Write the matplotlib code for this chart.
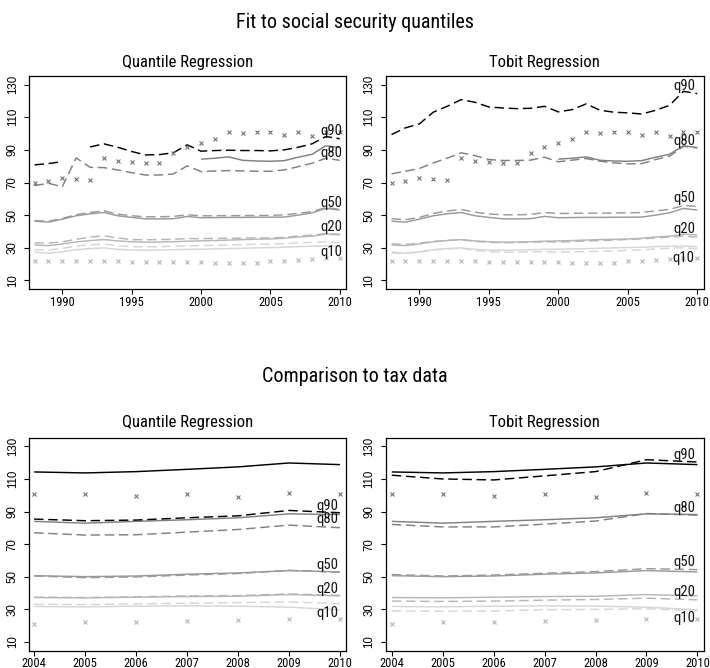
import numpy as np
import matplotlib
matplotlib.use("Agg")
import matplotlib.pyplot as plt
from matplotlib import font_manager

nan = np.nan

# ---------------- data: social security period ----------------
years_ss = list(range(1988, 2011))

ss_top_obs = [69.5, 70.9, 72.6, 72.0, 71.3, 84.9, 83.4, 82.4, 82.2, 81.8, 87.9, 91.6,
              94.5, 96.6, 100.9, 100.3, 100.7, 100.7, 99.2, 100.7, 98.8, 100.9, 100.9]
ss_low_obs = [22.0, 22.0, 22.0, 22.1, 22.1, 22.1, 21.6, 21.4, 21.3, 21.4, 21.5, 21.5,
              21.3, 20.9, 20.9, 20.4, 20.4, 21.6, 22.0, 22.6, 22.9, 23.8, 24.0]

# reference series (solid)
ss_q80 = [nan, nan, nan, nan, nan, nan, nan, nan, nan, nan, nan, nan,
          84.3, 84.9, 85.7, 83.6, 83.2, 83.0, 83.4, 85.5, 87.3, 92.5, 91.4]
ss_q50 = [46.3, 45.7, 47.5, 49.6, 50.8, 51.6, 49.6, 48.6, 47.7, 47.7, 47.8, 49.2,
          48.4, 48.5, 48.6, 48.6, 48.7, 48.7, 48.8, 50.0, 51.4, 54.1, 53.1]
ss_q20 = [31.7, 31.3, 32.3, 33.6, 34.4, 35.0, 34.2, 33.7, 33.4, 33.5, 33.7, 34.0,
          34.2, 34.4, 34.7, 35.0, 35.2, 35.4, 35.8, 36.6, 37.1, 38.3, 37.9]
ss_q10 = [27.4, 26.6, 27.5, 28.8, 29.5, 29.9, 29.0, 28.6, 28.5, 28.6, 28.8, 29.0,
          29.1, 29.3, 29.5, 29.7, 29.9, 30.1, 30.3, 30.7, 30.9, 31.1, 30.7]

# quantile regression fits (dashed)
qr_ss_q90 = [80.8, 81.6, 82.8, nan, 91.8, 93.7, 91.6, 89.0, 86.9, 87.1, 88.2, 93.1,
             89.2, 89.6, 89.8, 89.6, 89.6, 89.4, 90.0, 91.6, 93.7, 98.2, 96.8]
qr_ss_q80 = [68.1, 69.5, 67.4, 85.1, 79.3, 79.1, 77.7, 76.0, 74.6, 74.6, 75.2, 80.2,
             76.7, 77.1, 77.3, 77.1, 76.9, 76.9, 77.7, 79.7, 81.8, 84.9, 83.6]
qr_ss_q50 = [46.7, 46.2, 48.0, 50.3, 51.6, 52.7, 50.6, 49.6, 49.0, 49.0, 49.2, 50.2,
             49.6, 49.6, 49.7, 49.7, 49.8, 49.8, 50.2, 51.0, 52.2, 54.7, 53.5]
qr_ss_q20 = [33.0, 32.9, 33.6, 35.2, 36.5, 37.3, 36.0, 35.0, 34.9, 35.0, 35.2, 35.6,
             35.6, 35.7, 35.8, 35.9, 36.0, 36.0, 36.4, 37.2, 37.8, 38.7, 38.3]
qr_ss_q10 = [28.9, 28.6, 29.6, 31.0, 31.8, 32.2, 31.2, 30.7, 30.5, 30.6, 30.9, 31.1,
             31.3, 31.5, 31.7, 31.9, 32.1, 32.2, 32.5, 33.0, 33.3, 33.6, 33.2]

# tobit fits (dashed)
tb_ss_q90 = [99.4, 103.5, 105.9, 113.1, 116.7, 120.8, 119.2, 116.3, 115.7, 115.3, 115.5, 116.7,
             113.3, 114.7, 118.2, 114.3, 113.1, 112.7, 112.0, 114.3, 117.3, 125.9, 124.5]
tb_ss_q80 = [75.3, 76.9, 78.6, 82.0, 84.9, 88.2, 86.5, 84.1, 83.5, 83.5, 83.7, 85.5,
             82.7, 83.7, 84.7, 83.1, 82.0, 81.4, 81.6, 84.1, 86.1, 92.2, 91.2]
tb_ss_q50 = [47.8, 47.2, 48.6, 51.0, 52.5, 53.5, 51.8, 50.7, 50.2, 50.2, 50.4, 51.6,
             51.0, 51.1, 51.2, 51.2, 51.3, 51.4, 51.6, 52.6, 53.5, 55.9, 55.3]
tb_ss_q20 = [32.4, 32.0, 32.8, 33.9, 34.5, 34.9, 33.9, 33.3, 33.1, 33.2, 33.4, 33.6,
             33.5, 33.8, 34.1, 34.4, 34.7, 35.1, 35.4, 36.0, 36.5, 37.1, 36.5]
tb_ss_q10 = [26.7, 26.6, 27.3, 28.6, 29.3, 29.6, 28.3, 27.6, 27.3, 27.3, 27.4, 27.6,
             27.4, 27.5, 27.6, 27.8, 28.0, 28.4, 28.7, 29.3, 29.7, 30.0, 29.4]

# ---------------- data: tax period ----------------
years_tax = list(range(2004, 2011))

tax_top_obs = [100.7, 100.7, 99.4, 100.7, 99.0, 101.1, 100.9]
tax_low_obs = [21.0, 22.2, 22.6, 23.2, 23.4, 24.3, 24.3]

tax_q90 = [114.3, 113.7, 114.5, 115.9, 117.4, 119.8, 118.8]
tax_q80 = [84.0, 82.9, 84.0, 85.0, 86.2, 88.6, 88.2]
tax_q50 = [50.7, 50.1, 50.5, 51.6, 52.4, 53.8, 53.0]
tax_q20 = [37.3, 37.1, 37.5, 37.9, 38.1, 39.1, 38.3]
tax_q10 = [31.8, 31.6, 32.0, 32.2, 32.0, 31.4, 29.8]

qr_tax_q90 = [85.4, 84.4, 84.8, 86.2, 87.4, 90.7, 89.3]
qr_tax_q80 = [77.0, 75.6, 75.8, 77.4, 79.0, 81.7, 80.1]
qr_tax_q50 = [50.5, 49.5, 49.9, 51.1, 52.0, 54.0, 52.8]
qr_tax_q20 = [37.5, 37.3, 37.7, 38.3, 38.5, 39.5, 38.7]
qr_tax_q10 = [33.2, 33.0, 33.4, 33.8, 34.2, 34.6, 33.6]

tb_tax_q90 = [112.3, 110.0, 109.4, 111.9, 114.5, 121.8, 120.4]
tb_tax_q80 = [82.1, 80.6, 80.6, 82.3, 84.2, 88.8, 87.8]
tb_tax_q50 = [51.4, 50.5, 51.1, 52.2, 53.2, 55.0, 54.4]
tb_tax_q20 = [35.1, 34.9, 35.1, 35.7, 36.1, 36.9, 35.9]
tb_tax_q10 = [29.1, 28.9, 29.1, 29.8, 30.0, 30.4, 29.3]

quantile_names = ["q90", "q80", "q50", "q20", "q10"]

# label anchors (x, y) per panel, in data units
lab_x_ss = [2009.4, 2009.4, 2009.4, 2009.4, 2009.4]
lab_y_qr_ss = [101.3, 88.0, 57.6, 42.8, 27.4]
lab_x_tb_ss = [2009.1, 2009.1, 2009.1, 2009.1, 2009.0]
lab_y_tb_ss = [129.4, 95.3, 60.6, 41.2, 23.9]
lab_x_tax = [2009.75, 2009.75, 2009.75, 2009.75, 2009.75]
lab_y_qr_tax = [93.3, 85.6, 57.3, 42.6, 28.1]
lab_y_tb_tax = [124.5, 92.5, 58.9, 40.6, 24.7]

# ---------------- styling ----------------
colors = ["#000000", "#808080", "#9a9a9a", "#b6b6b6", "#d6d6d6"]
obs_top_color = "#707070"
obs_low_color = "#b4b4b4"
DASH = (6.5, 3.2)
LW = 1.05


def pick_narrow_font():
    """Prefer a narrow sans face; fall back to Liberation Sans."""
    entries = font_manager.fontManager.ttflist
    names = {f.name for f in entries}
    for cand in ["Liberation Sans Narrow", "Arial Narrow", "Roboto Condensed",
                 "Open Sans Condensed", "DejaVu Sans Condensed"]:
        if cand in names:
            return dict(family=[cand, "DejaVu Sans"], stretch="normal"), True
    for f in entries:
        if f.name == "DejaVu Sans" and str(f.stretch) in ("condensed", "semi-condensed"):
            return dict(family=["DejaVu Sans"], stretch="condensed"), True
    return dict(family=["Liberation Sans", "DejaVu Sans"], stretch="normal"), False


NARROW_KW, HAVE_NARROW = pick_narrow_font()
REG = ["Liberation Sans", "DejaVu Sans"]
K = 1.0 if HAVE_NARROW else 0.82   # shrink wide faces to keep text widths

fig = plt.figure(figsize=(7.10, 6.68), dpi=100)
W, H = 710.0, 668.0


def make_axes(x0, x1, ytop, ybot):
    return fig.add_axes([x0 / W, 1 - ybot / H, (x1 - x0) / W, (ybot - ytop) / H])


def style(ax, xlim, xticks):
    ax.set_xlim(*xlim)
    ax.set_ylim(4.7, 135.3)
    ax.set_xticks(xticks)
    ax.set_yticks([10, 30, 50, 70, 90, 110, 130])
    for s in ax.spines.values():
        s.set_linewidth(0.9)
    ax.tick_params(direction="out", length=3.8, width=0.8, colors="black")
    ax.tick_params(axis="x", pad=1.0)
    ax.tick_params(axis="y", pad=3.6)
    for lab in ax.get_xticklabels():
        lab.set_fontfamily(NARROW_KW["family"])
        lab.set_fontstretch(NARROW_KW["stretch"])
        lab.set_fontsize(9.0 * K)
    for lab in ax.get_yticklabels():
        lab.set_fontfamily(REG)
        lab.set_fontsize(8.3)
        lab.set_rotation(90)
        lab.set_va("center")
        lab.set_ha("right")


def draw_panel(ax, years, ref, fit, top_obs, low_obs, lab_x, lab_y):
    for r, c in zip(ref, colors):
        ax.plot(years, r, color=c, lw=LW, solid_capstyle="butt")
    for f, c in zip(fit, colors):
        ax.plot(years, f, color=c, lw=LW, dashes=DASH, dash_capstyle="butt")
    ax.plot(years, top_obs, ls="none", marker="x", ms=3.2, mew=0.8, color=obs_top_color)
    ax.plot(years, low_obs, ls="none", marker="x", ms=3.2, mew=0.8, color=obs_low_color)
    for name, x, y in zip(quantile_names, lab_x, lab_y):
        ax.text(x, y, name, ha="center", va="center", fontsize=10.5 * K,
                family=NARROW_KW["family"], stretch=NARROW_KW["stretch"], color="#111111")


xlim_ss_l = (1987.6, 2010.45)
xlim_ss_r = (1987.58, 2010.48)
xlim_tax_l = (2003.9, 2010.12)
xlim_tax_r = (2003.88, 2010.13)
ss_ticks = [1990, 1995, 2000, 2005, 2010]

nan_ref_q90 = [nan] * len(years_ss)

ax1 = make_axes(29, 346, 76, 289)
draw_panel(ax1, years_ss,
           [nan_ref_q90, ss_q80, ss_q50, ss_q20, ss_q10],
           [qr_ss_q90, qr_ss_q80, qr_ss_q50, qr_ss_q20, qr_ss_q10],
           ss_top_obs, ss_low_obs, lab_x_ss, lab_y_qr_ss)
style(ax1, xlim_ss_l, ss_ticks)

ax2 = make_axes(385.7, 704, 76, 289)
draw_panel(ax2, years_ss,
           [nan_ref_q90, ss_q80, ss_q50, ss_q20, ss_q10],
           [tb_ss_q90, tb_ss_q80, tb_ss_q50, tb_ss_q20, tb_ss_q10],
           ss_top_obs, ss_low_obs, lab_x_tb_ss, lab_y_tb_ss)
style(ax2, xlim_ss_r, ss_ticks)

ax3 = make_axes(29, 346, 437.7, 650.7)
draw_panel(ax3, years_tax,
           [tax_q90, tax_q80, tax_q50, tax_q20, tax_q10],
           [qr_tax_q90, qr_tax_q80, qr_tax_q50, qr_tax_q20, qr_tax_q10],
           tax_top_obs, tax_low_obs, lab_x_tax, lab_y_qr_tax)
style(ax3, xlim_tax_l, years_tax)

ax4 = make_axes(385.7, 704, 437.7, 650.7)
draw_panel(ax4, years_tax,
           [tax_q90, tax_q80, tax_q50, tax_q20, tax_q10],
           [tb_tax_q90, tb_tax_q80, tb_tax_q50, tb_tax_q20, tb_tax_q10],
           tax_top_obs, tax_low_obs, lab_x_tax, lab_y_tb_tax)
style(ax4, xlim_tax_r, years_tax)

# titles
title_kw = dict(ha="center", va="center", family=NARROW_KW["family"],
                stretch=NARROW_KW["stretch"])
fig.text(0.5, 1 - 22 / H, "Fit to social security quantiles", fontsize=14.5 * K, **title_kw)
fig.text(0.5, 1 - 377 / H, "Comparison to tax data", fontsize=14.5 * K, **title_kw)
panel_titles = ["Quantile Regression", "Tobit Regression"]
for (x0, x1), t in zip([(29, 346), (385.7, 704)], panel_titles):
    xc = (x0 + x1) / 2 / W
    fig.text(xc, 1 - 62 / H, t, fontsize=12.0 * K, **title_kw)
    fig.text(xc, 1 - 423 / H, t, fontsize=12.0 * K, **title_kw)

fig.savefig("out.png", dpi=100)
